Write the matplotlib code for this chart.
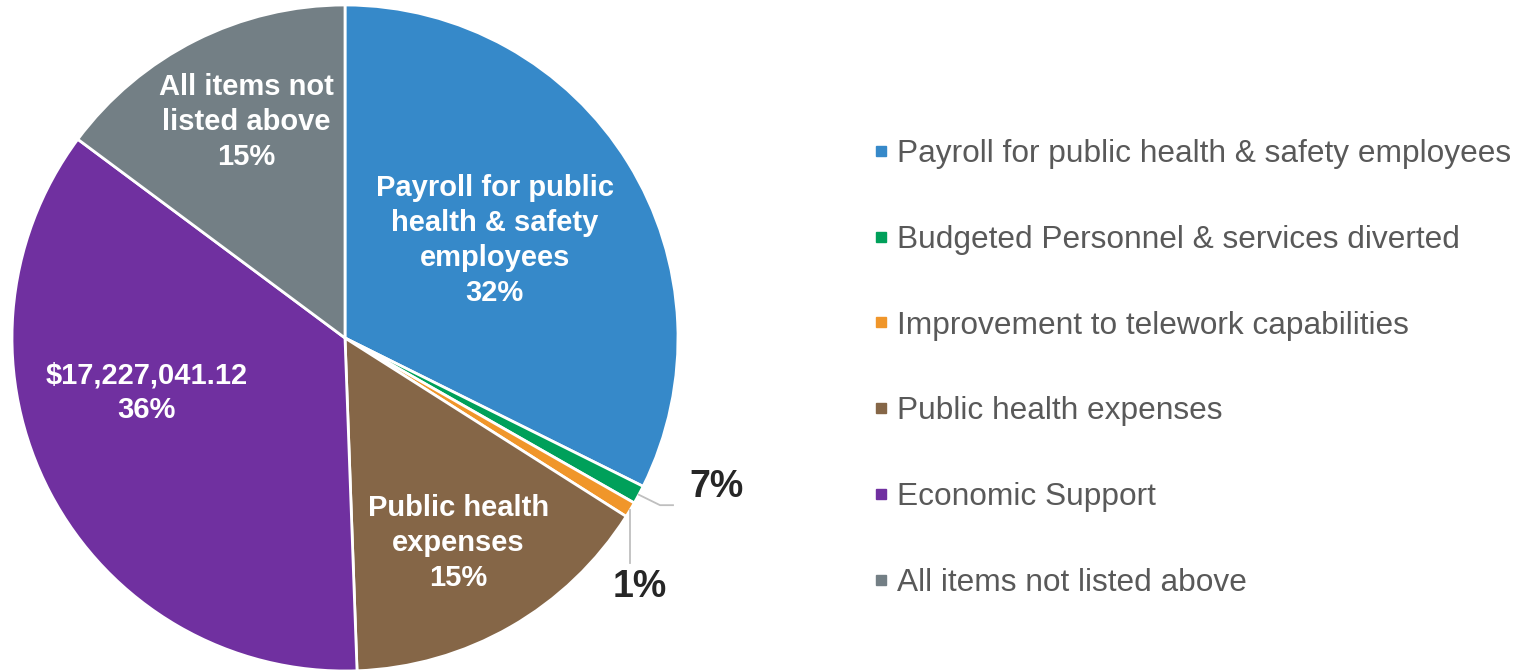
import numpy as np
import matplotlib
matplotlib.use('Agg')
import matplotlib.pyplot as plt
from matplotlib.lines import Line2D

plt.rcParams['font.family'] = ['Liberation Sans', 'DejaVu Sans']

categories = ['Payroll for public health & safety employees',
              'Budgeted Personnel & services diverted',
              'Improvement to telework capabilities',
              'Public health expenses',
              'Economic Support',
              'All items not listed above']
values = [32.3, 0.9, 0.75, 15.4, 35.7, 14.8]
slice_labels = ['Payroll for public\nhealth & safety\nemployees\n32%', '7%', '1%',
                'Public health\nexpenses\n15%', '$17,227,041.12\n36%',
                'All items not\nlisted above\n15%']
colors = ['#3689C9', '#00A05A', '#F0962A', '#856647', '#7030A0', '#737F85']

fig = plt.figure(figsize=(15.33, 6.71), dpi=100)
ax = fig.add_axes([12/1533, 0, 666/1533, 666/671])
wedges, _ = ax.pie(values, colors=colors, startangle=90, counterclock=False,
                   wedgeprops=dict(edgecolor='white', linewidth=2))
ax.set_xlim(-1, 1)
ax.set_ylim(-1, 1)
ax.set_aspect('equal')
ax.axis('off')

# labels inside slices
inner_pos = {0: (0.45, 0.294), 3: (0.34, -0.616), 4: (-0.595, -0.165), 5: (-0.297, 0.649)}
for i, (x, y) in inner_pos.items():
    ax.text(x, y, slice_labels[i], ha='center', va='center', color='white',
            fontsize=21, fontweight='bold', linespacing=1.32)

# small slices with leader lines
def mid_angle(w):
    return np.deg2rad((w.theta1 + w.theta2) / 2)

a = mid_angle(wedges[1])
x0, y0 = np.cos(a), np.sin(a)
ax.plot([x0, 0.946, 0.985], [y0, -0.502, -0.502], color='#BFBFBF', lw=1.3, clip_on=False)
ax.text(1.117, -0.447, slice_labels[1], ha='center', va='center', color='#262626',
        fontsize=27, fontweight='bold')

a = mid_angle(wedges[2])
x0, y0 = np.cos(a), np.sin(a)
ax.plot([x0, x0], [y0, -0.676], color='#BFBFBF', lw=1.3, clip_on=False)
ax.text(0.886, -0.748, slice_labels[2], ha='center', va='center', color='#262626',
        fontsize=27, fontweight='bold')

handles = [Line2D([], [], marker='s', ls='', color=c, markersize=7.5) for c in colors]
fig.legend(handles, categories, loc='center left', bbox_to_anchor=(843/1533, 0.451),
           frameon=False, fontsize=22.8, labelspacing=1.76, handlelength=0.6,
           handletextpad=0.2, labelcolor='#595959')

fig.savefig('out.png', dpi=100)
